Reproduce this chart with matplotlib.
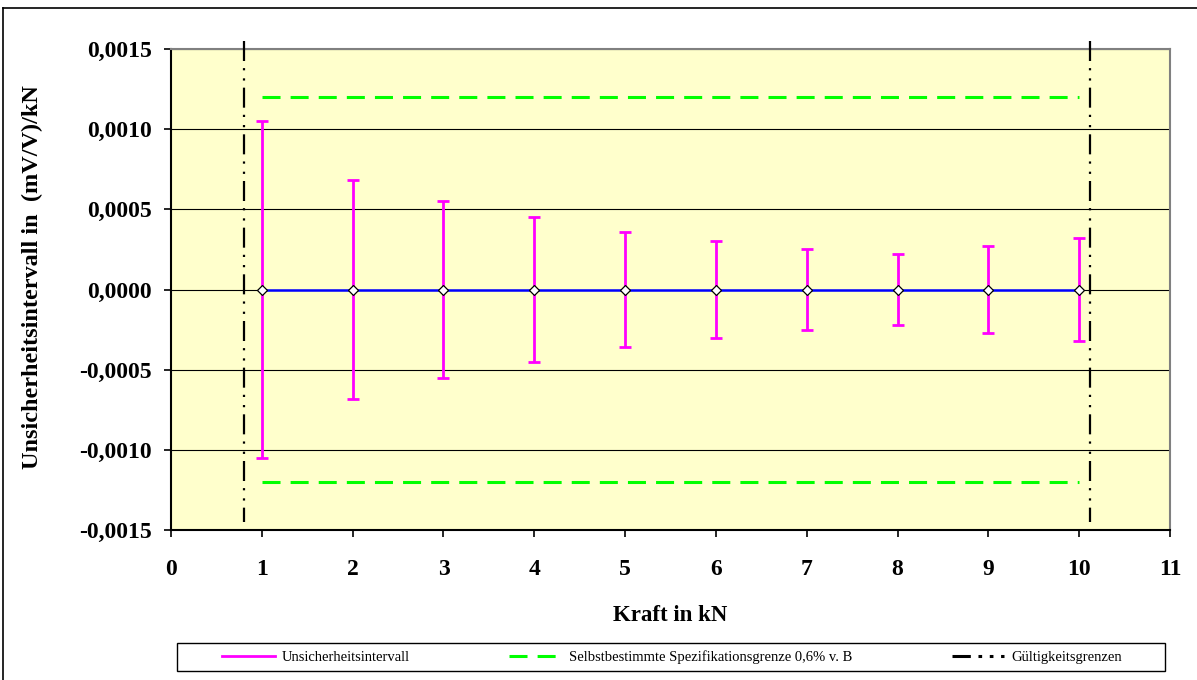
import numpy as np
import matplotlib
matplotlib.use("Agg")
import matplotlib.pyplot as plt
from matplotlib.ticker import FuncFormatter, MultipleLocator
from matplotlib.lines import Line2D

# Kraftstufen und halbe Breite des Unsicherheitsintervalls
kraft_kN = [1, 2, 3, 4, 5, 6, 7, 8, 9, 10]
intervall = [0.00105, 0.00068, 0.00055, 0.00045, 0.00036,
             0.00030, 0.00025, 0.00022, 0.00027, 0.00032]
abweichung = [0.0] * len(kraft_kN)

# Spezifikationsgrenze +/- und Gueltigkeitsgrenzen
spez_grenze = 0.0012
spez_x = [1, 10]
gueltig_x = [0.8, 10.12]
gueltig_y = [0.00155, -0.00145]

plt.rcParams['font.family'] = ['Liberation Serif', 'DejaVu Serif']

fig = plt.figure(figsize=(11.97, 6.8), dpi=100)
ax = fig.add_axes([171/1197, 1 - 530/680, 999/1197, 481/680])
ax.set_facecolor('#FFFFCC')

ax.grid(axis='y', color='black', lw=0.8, zorder=0)
ax.set_axisbelow(True)

ax.errorbar(kraft_kN, abweichung, yerr=intervall, fmt='none',
            ecolor='#FF00FF', elinewidth=2.0, capsize=4, capthick=2.0, zorder=3)
ax.plot(kraft_kN, abweichung, color='#0000FF', lw=1.8, marker='D',
        markersize=5, markerfacecolor='white', markeredgecolor='black',
        markeredgewidth=0.9, zorder=4)

for s in (1, -1):
    ax.plot(spez_x, [s * spez_grenze] * 2, color='#00FF00', lw=2.2,
            dashes=(5.9, 3.3), zorder=2)

for x in gueltig_x:
    ax.plot([x, x], gueltig_y, color='black', lw=1.6,
            dashes=(9, 3.2, 1, 3.6, 1, 3.2), clip_on=False, zorder=5)

ax.set_xlim(0, 11)
ax.set_ylim(-0.0015, 0.0015)
ax.xaxis.set_major_locator(MultipleLocator(1))
ax.yaxis.set_major_locator(MultipleLocator(0.0005))

def komma(v, pos):
    if abs(v) < 1e-12:
        v = 0.0
    return f"{v:.4f}".replace('.', ',')

ax.yaxis.set_major_formatter(FuncFormatter(komma))
ax.tick_params(axis='both', direction='out', length=5, width=1.2,
               labelsize=17)
ax.tick_params(axis='x', pad=16)
ax.tick_params(axis='y', pad=9)
for lab in ax.get_xticklabels() + ax.get_yticklabels():
    lab.set_fontweight('bold')

for side in ('left', 'bottom'):
    ax.spines[side].set_color('black')
    ax.spines[side].set_linewidth(1.5)
for side in ('top', 'right'):
    ax.spines[side].set_color('#808080')
    ax.spines[side].set_linewidth(1.5)

ax.set_xlabel('Kraft in kN', fontsize=16.5, fontweight='bold', labelpad=18)
ax.set_ylabel('Unsicherheitsintervall in  (mV/V)/kN', fontsize=17.5,
              fontweight='bold', labelpad=26)
ax.yaxis.label.set_y((530 - 277) / 481)

# Legende unter dem Diagramm
handles = [
    Line2D([], [], color='#FF00FF', lw=2.0),
    Line2D([], [], color='#00FF00', lw=2.2, dashes=(5.9, 3.3)),
    Line2D([], [], color='black', lw=2.2, dashes=(6, 2.5, 1.2, 2.5, 1.2, 2.5)),
]
labels = ['Unsicherheitsintervall',
          'Selbstbestimmte Spezifikationsgrenze 0,6% v. B',
          'Gültigkeitsgrenzen']
fig.patches.append(plt.Rectangle((177/1197, 1 - 671/680), 988/1197, 28/680,
                                 transform=fig.transFigure, facecolor='white',
                                 edgecolor='black', lw=1.0, zorder=1))
fig.legend(handles, labels, loc='center left', ncol=3, mode='expand',
           bbox_to_anchor=(222/1197, 1 - 671/680, 900/1197, 28/680),
           frameon=False, fontsize=10.5, handlelength=3.6, handletextpad=0.5,
           borderpad=0, borderaxespad=0)

# Rahmen des Diagrammbereichs
fig.add_artist(Line2D([3/1197, 3/1197], [0, 1 - 8/680], color='black', lw=1.2,
                      transform=fig.transFigure))
fig.add_artist(Line2D([3/1197, 1], [1 - 8/680, 1 - 8/680], color='black', lw=1.2,
                      transform=fig.transFigure))

fig.savefig('out.png', dpi=100)
